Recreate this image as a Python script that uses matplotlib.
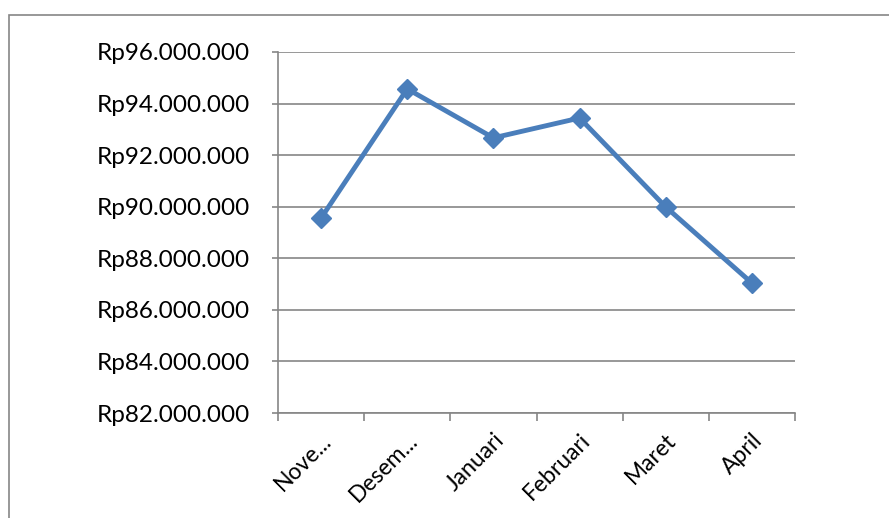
import matplotlib.pyplot as plt
from matplotlib.patches import Rectangle
from matplotlib.ticker import FuncFormatter

# -----------------------------
# Data
# -----------------------------
months = ["Nove...", "Desem...", "Januari", "Februari", "Maret", "April"]
revenue = [89560000, 94570000, 92670000, 93440000, 89990000, 87040000]
y_ticks = list(range(82000000, 96000001, 2000000))

GRID = "#868686"
BLUE = "#4a7ebb"

plt.rcParams["font.family"] = ["Lato", "DejaVu Sans"]


def rupiah(v, pos=None):
    return "Rp" + f"{int(v):,}".replace(",", ".")


fig = plt.figure(figsize=(8.89, 5.18), dpi=100)
ax = fig.add_axes([278 / 889, 1 - 413 / 518, (795 - 278) / 889, (413 - 52) / 518])

# outer chart border
fig.patches.append(Rectangle((9 / 889, -0.05), 1.2, 1 - 15 / 518 + 0.05,
                             transform=fig.transFigure, fill=False,
                             edgecolor=GRID, linewidth=1.2))

x = [i + 0.5 for i in range(len(months))]
ax.plot(x, revenue, color=BLUE, linewidth=3.5, marker="D", markersize=10,
        markerfacecolor=BLUE, markeredgecolor=BLUE, zorder=3)

ax.set_xlim(0, len(months))
ax.set_ylim(y_ticks[0], y_ticks[-1])
ax.set_yticks(y_ticks)
ax.yaxis.set_major_formatter(FuncFormatter(rupiah))
ax.set_xticks(range(len(months) + 1))
ax.set_xticklabels([])
ax.set_xticks(x, minor=True)
ax.set_xticklabels(months, minor=True, rotation=45, ha="right",
                   rotation_mode="anchor", fontsize=16.5)
ax.tick_params(axis="x", which="minor", length=0, pad=12)
ax.tick_params(axis="x", which="major", length=6, color=GRID, width=1.2)
ax.tick_params(axis="y", length=4.5, color=GRID, width=1.2, labelsize=17.5, pad=16)

ax.yaxis.grid(True, color=GRID, linewidth=1.2)
ax.set_axisbelow(True)
for side in ["top", "right"]:
    ax.spines[side].set_visible(False)
for side in ["left", "bottom"]:
    ax.spines[side].set_color(GRID)
    ax.spines[side].set_linewidth(1.2)

fig.savefig("out.png", dpi=100)
